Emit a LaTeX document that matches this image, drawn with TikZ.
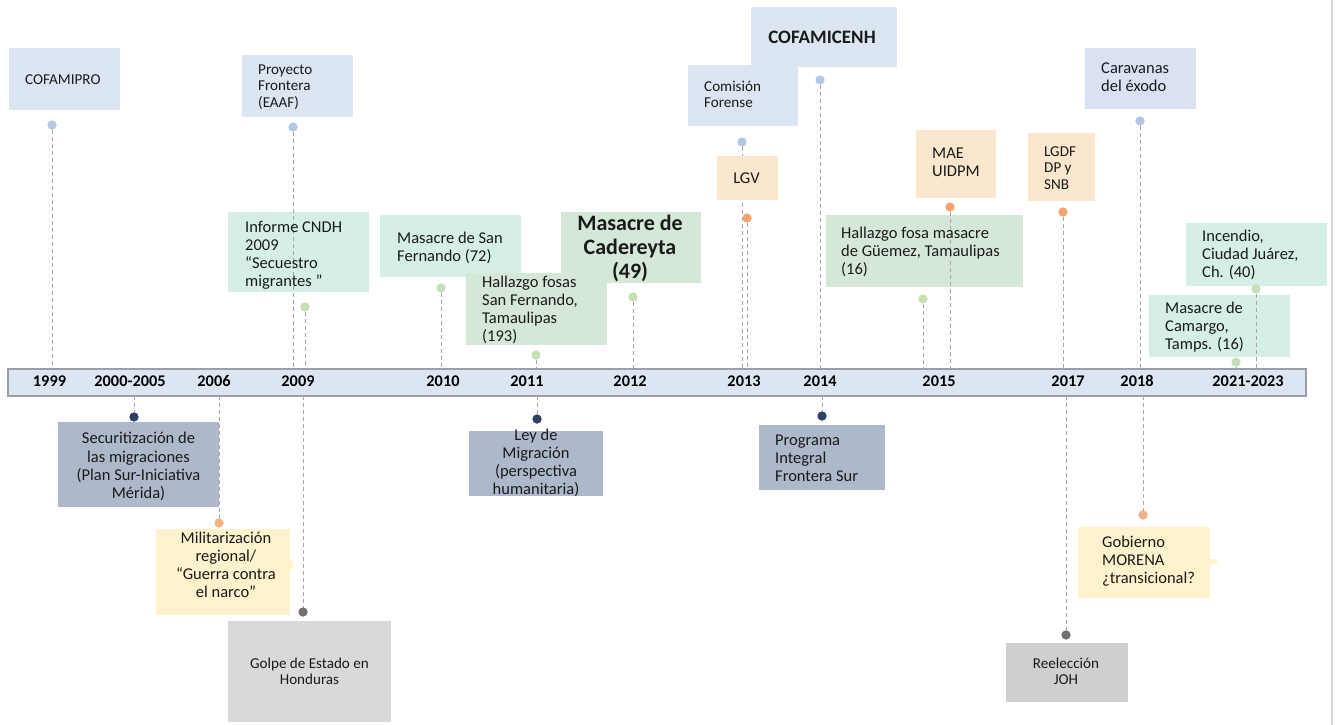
\documentclass[tikz,border=0pt]{standalone}
\usepackage{fontspec}
\setmainfont{Carlito}
\definecolor{txt}{HTML}{1A1A1A}
\definecolor{cblue}{HTML}{DCE6F2}
\definecolor{clav}{HTML}{D9E1F2}
\definecolor{cteal}{HTML}{D5EEE7}
\definecolor{cgreen}{HTML}{D5E8D8}
\definecolor{corange}{HTML}{FAE7CD}
\definecolor{cyellow}{HTML}{FFF2CC}
\definecolor{cnavy}{HTML}{ADB9CA}
\definecolor{cgray}{HTML}{D9D9D9}
\definecolor{cgrayb}{HTML}{D0CECE}
\definecolor{dblue}{HTML}{B4C7E7}
\definecolor{dgreen}{HTML}{C5E0B4}
\definecolor{dorange}{HTML}{F5A46E}
\definecolor{dlorange}{HTML}{F4B183}
\definecolor{dnavy}{HTML}{2F4064}
\definecolor{dgray}{HTML}{767171}
\definecolor{dashc}{HTML}{A6A6A6}
\definecolor{barline}{HTML}{9A9EA5}
\newcommand\mybox[6]{\node[box,fill=#6,minimum width={(#4-#2)*1pt},minimum height={(#5-#3)*1pt}] (#1) at (#2,#3) {};}
\begin{document}
\begin{tikzpicture}[x=1pt,y=-1pt,
  box/.style={rectangle, inner sep=0pt, outer sep=0pt, anchor=north west},
  fA/.style={font=\fontsize{16.5}{18.1}\selectfont},
  fB/.style={font=\fontsize{15.1}{16.4}\selectfont},
  lt/.style={anchor=west, inner sep=0pt, align=left, text=txt},
  ct/.style={inner sep=0pt, align=center, text=txt},
  dot/.style={circle, inner sep=0pt, outer sep=0pt, minimum size=9pt},
  dl/.style={draw=dashc, line width=0.9pt, dash pattern=on 4pt off 3pt},
  yr/.style={anchor=base, inner sep=0pt, font=\bfseries\fontsize{16.3}{18}\selectfont, text=black}
]
\useasboundingbox (0,0) rectangle (1335,725);
\draw[cgray, line width=1.5pt] (1332,0) -- (1332,725);

% timeline bar
\node[box, fill=cblue, draw=barline, line width=1.2pt, minimum width=1298pt, minimum height=27pt] (bar) at (8,369) {};

% dots
\node[dot, fill=dblue] (d1999) at (52,125) {};
\node[dot, fill=dblue] (d2009b) at (293,127) {};
\node[dot, fill=dgreen] (d2009g) at (305,307) {};
\node[dot, fill=dgreen] (d2010) at (441,288) {};
\node[dot, fill=dgreen] (d2011g) at (536,355) {};
\node[dot, fill=dgreen] (d2012) at (633,297) {};
\node[dot, fill=dblue] (d2013b) at (742,142) {};
\node[dot, fill=dorange] (d2013o) at (747,218) {};
\node[dot, fill=dblue] (d2014b) at (820,80) {};
\node[dot, fill=dgreen] (d2015g) at (923,299) {};
\node[dot, fill=dorange] (d2015o) at (950,207) {};
\node[dot, fill=dorange] (d2017o) at (1063,212) {};
\node[dot, fill=dblue] (d2018b) at (1140,121) {};
\node[dot, fill=dgreen] (d2021a) at (1256,289) {};
\node[dot, fill=dgreen] (d2021b) at (1236,362) {};
\node[dot, fill=dnavy] (d2000) at (134,417) {};
\node[dot, fill=dlorange] (d2006) at (219,523) {};
\node[dot, fill=dgray] (d2009gr) at (303,612) {};
\node[dot, fill=dnavy] (d2011n) at (537,419) {};
\node[dot, fill=dnavy] (d2014n) at (822,416) {};
\node[dot, fill=dgray] (d2017gr) at (1066,635) {};
\node[dot, fill=dlorange] (d2018o) at (1143,515) {};

% line hidden behind the LGV box
\draw[dl] (d2013b.south) -- (d2013b.south |- bar.north);

% boxes
\mybox{bCofa}{9}{48}{120}{110}{cblue}
\mybox{bProy}{242}{55}{353}{117}{cblue}
\mybox{bInf}{228}{212}{369}{292}{cteal}
\mybox{bSanF}{380}{215}{521}{277}{cteal}
\mybox{bCad}{561}{212}{701}{283}{cgreen}
\mybox{bHal}{466}{273}{607}{345}{cgreen}
\mybox{bCofh}{751}{7}{897}{67}{cblue}
\mybox{bCom}{688}{65}{798}{126}{cblue}
\mybox{bLGV}{717}{156}{778}{200}{corange}
\mybox{bGue}{826}{215}{1023}{287}{cgreen}
\mybox{bMAE}{916}{130}{996}{198}{corange}
\mybox{bLGDF}{1028}{133}{1095}{201}{corange}
\mybox{bCar}{1085}{48}{1196}{109}{clav}
\mybox{bInc}{1186}{223}{1327}{286}{cteal}
\mybox{bCam}{1149}{295}{1290}{357}{cteal}
\mybox{bSec}{58}{422}{219}{507}{cnavy}
\mybox{bMil}{156}{529}{290}{615}{cyellow}
\mybox{tabMil}{289}{561}{293}{569}{cyellow}
\mybox{bGolpe}{228}{621}{391}{722}{cgray}
\mybox{bLey}{469}{431}{603}{496}{cnavy}
\mybox{bProg}{759}{425}{885}{490}{cnavy}
\mybox{bGob}{1078}{527}{1210}{598}{cyellow}
\mybox{tabGob}{1209}{559}{1217}{564}{cyellow}
\mybox{bReel}{1006}{643}{1128}{702}{cgrayb}

% dashed connectors above the bar
\draw[dl] (d1999.south) -- (d1999.south |- bar.north);
\draw[dl] (d2009b.south) -- (d2009b.south |- bar.north);
\draw[dl] (d2009g.south) -- (d2009g.south |- bar.north);
\draw[dl] (d2010.south) -- (d2010.south |- bar.north);
\draw[dl] (d2011g.south) -- (d2011g.south |- bar.north);
\draw[dl] (d2012.south) -- (d2012.south |- bar.north);
\draw[dl] (d2013o.south) -- (d2013o.south |- bar.north);
\draw[dl] (d2014b.south) -- (d2014b.south |- bar.north);
\draw[dl] (d2015g.south) -- (d2015g.south |- bar.north);
\draw[dl] (d2015o.south) -- (d2015o.south |- bar.north);
\draw[dl] (d2017o.south) -- (d2017o.south |- bar.north);
\draw[dl] (d2018b.south) -- (d2018b.south |- bar.north);
\draw[dl] (d2021a.south) -- (d2021a.south |- bar.north);
\draw[dl] (d2021b.south) -- (d2021b.south |- bar.north);
% dashed connectors below the bar
\draw[dl] (bar.south -| d2000) -- (d2000.north);
\draw[dl] (bar.south -| d2006) -- (d2006.north);
\draw[dl] (bar.south -| d2009gr) -- (d2009gr.north);
\draw[dl] (bar.south -| d2011n) -- (d2011n.north);
\draw[dl] (bar.south -| d2014n) -- (d2014n.north);
\draw[dl] (bar.south -| d2017gr) -- (d2017gr.north);
\draw[dl] (bar.south -| d2018o) -- (d2018o.north);

% redraw dots on top of lines
\foreach \d/\c in {d1999/dblue,d2009b/dblue,d2009g/dgreen,d2010/dgreen,d2011g/dgreen,d2012/dgreen,d2013b/dblue,d2013o/dorange,d2014b/dblue,d2015g/dgreen,d2015o/dorange,d2017o/dorange,d2018b/dblue,d2021a/dgreen,d2021b/dgreen,d2000/dnavy,d2006/dlorange,d2009gr/dgray,d2011n/dnavy,d2014n/dnavy,d2017gr/dgray,d2018o/dlorange}
  \fill[\c] (\d.center) circle (4.5pt);

% box texts (yshift is in page units: negative moves down)
\node[lt,fB] (tCofa) at ([xshift=16pt,yshift=-1pt]bCofa.west) {COFAMIPRO};
\node[lt,fB] (tProy) at ([xshift=16pt,yshift=-1pt]bProy.west) {Proyecto\\Frontera\\(EAAF)};
\node[lt,fA] (tInf) at ([xshift=17pt,yshift=-3pt]bInf.west) {Informe CNDH\\2009\\“Secuestro\\migrantes ”};
\node[lt,fA] (tSanF) at ([xshift=17pt,yshift=-2pt]bSanF.west) {Masacre de San\\Fernando (72)};
\node[ct,font=\bfseries\fontsize{22}{24}\selectfont] (tCad) at ([xshift=-1pt,yshift=-1pt]bCad.center) {Masacre de\\Cadereyta\\(49)};
\node[lt,fA] (tHal) at ([xshift=16pt,yshift=-1pt]bHal.west) {Hallazgo fosas\\San Fernando,\\Tamaulipas\\(193)};
\node[ct,font=\bfseries\fontsize{19}{21}\selectfont] (tCofh) at ([xshift=-2pt]bCofh.center) {COFAMICENH};
\node[lt,fB] (tCom) at ([xshift=16pt,yshift=1pt]bCom.west) {Comisión\\Forense};
\node[ct,fA] (tLGV) at ([xshift=-1pt]bLGV.center) {LGV};
\node[lt,fA] (tGue) at ([xshift=15pt,yshift=-1pt]bGue.west) {Hallazgo fosa masacre\\de Güemez, Tamaulipas\\(16)};
\node[lt,fA] (tMAE) at ([xshift=16pt,yshift=2pt]bMAE.west) {MAE\\UIDPM};
\node[lt,fB] (tLGDF) at ([xshift=16pt,yshift=-1pt]bLGDF.west) {LGDF\\DP y\\SNB};
\node[lt,fA] (tCar) at ([xshift=16pt,yshift=1pt]bCar.west) {Caravanas\\del éxodo};
\node[lt,fA] (tInc) at ([xshift=16pt,yshift=-0.5pt]bInc.west) {Incendio,\\Ciudad Juárez,\\Ch. (40)};
\node[lt,fA] (tCam) at ([xshift=16pt,yshift=-1pt]bCam.west) {Masacre de\\Camargo,\\Tamps. (16)};
\node[ct,fA] (tSec) at ([yshift=-2pt]bSec.center) {Securitización de\\las migraciones\\(Plan Sur-Iniciativa\\Mérida)};
\node[ct,fA,anchor=north] (tMil) at ([xshift=3pt,yshift=-2.5pt]bMil.north) {Militarización\\regional/\\“Guerra contra\\el narco”};
\node[ct,fB] (tGolpe) at (bGolpe.center) {Golpe de Estado en\\Honduras};
\node[ct,fA] (tLey) at ([yshift=0.5pt]bLey.center) {Ley de\\Migración\\(perspectiva\\humanitaria)};
\node[lt,fA] (tProg) at ([xshift=16pt,yshift=-1pt]bProg.west) {Programa\\Integral\\Frontera Sur};
\node[lt,fA] (tGob) at ([xshift=24pt,yshift=1pt]bGob.west) {Gobierno\\MORENA\\¿transicional?};
\node[ct,fB] (tReel) at ([xshift=-1pt,yshift=1pt]bReel.center) {Reelección\\JOH};

% year labels
\node[yr] (y1999) at (49.5,386) {1999};
\node[yr] (y2000) at (130,386) {2000-2005};
\node[yr] (y2006) at (214,386) {2006};
\node[yr] (y2009) at (298,386) {2009};
\node[yr] (y2010) at (443,386) {2010};
\node[yr] (y2011) at (527,386) {2011};
\node[yr] (y2012) at (630,386) {2012};
\node[yr] (y2013) at (744,386) {2013};
\node[yr] (y2014) at (820,386) {2014};
\node[yr] (y2015) at (939,386) {2015};
\node[yr] (y2017) at (1068,386) {2017};
\node[yr] (y2018) at (1137,386) {2018};
\node[yr] (y2021) at (1248,386) {2021-2023};
\end{tikzpicture}
\end{document}
